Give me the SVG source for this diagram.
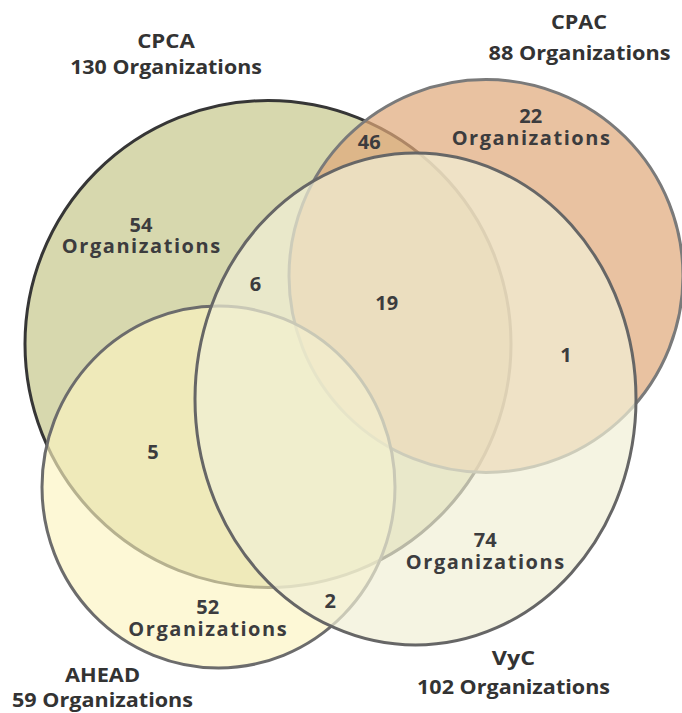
<svg xmlns="http://www.w3.org/2000/svg" width="682" height="713" viewBox="0 0 682 713">
<style>
.title{font-family:"Open Sans","Liberation Sans",sans-serif;font-weight:700;font-size:20px;fill:#333333;text-anchor:middle}
.lbl{font-family:"Open Sans","Liberation Sans",sans-serif;font-weight:700;font-size:20px;fill:#3c3c3e;text-anchor:middle}
.cpca{fill:#d7d8ae;stroke:#363636;stroke-width:3}
.cpac{fill:#e0a879;fill-opacity:0.7;stroke:#7a7a7a;stroke-width:3}
.ahead{fill:#fcf5c0;fill-opacity:0.65;stroke:#6c6c6c;stroke-width:3}
.vyc{fill:#f1efd6;fill-opacity:0.7;stroke:#666666;stroke-width:3}
</style>
<rect width="682" height="713" fill="#ffffff"/>
<g id="cpca">
<ellipse class="cpca" cx="268" cy="344" rx="243" ry="243.5"/>
</g>
<g id="cpac">
<ellipse class="cpac" cx="486" cy="276" rx="197" ry="196.5"/>
</g>
<g id="ahead">
<ellipse class="ahead" cx="218.5" cy="487" rx="176.5" ry="181"/>
</g>
<g id="vyc">
<ellipse class="vyc" cx="415.5" cy="399" rx="220.5" ry="246"/>
</g>
<g id="connectors"></g>
<g id="titles">
<text class="title" x="166" y="47.5" textLength="57.7" lengthAdjust="spacingAndGlyphs">CPCA</text>
<text class="title" x="166" y="74" textLength="191.7" lengthAdjust="spacingAndGlyphs">130 Organizations</text>
<text class="title" x="579" y="28.5" textLength="56" lengthAdjust="spacingAndGlyphs">CPAC</text>
<text class="title" x="579.5" y="59.5" textLength="182" lengthAdjust="spacingAndGlyphs">88 Organizations</text>
<text class="title" x="102.5" y="682" textLength="75" lengthAdjust="spacingAndGlyphs">AHEAD</text>
<text class="title" x="102.5" y="707" textLength="181" lengthAdjust="spacingAndGlyphs">59 Organizations</text>
<text class="title" x="513.5" y="665" textLength="43.3" lengthAdjust="spacingAndGlyphs">VyC</text>
<text class="title" x="513.5" y="693.5" textLength="193" lengthAdjust="spacingAndGlyphs">102 Organizations</text>
</g>
<g id="region-labels">
<text class="lbl"><tspan x="141" y="231.5">54</tspan><tspan x="141" y="253.3" textLength="158.3" lengthAdjust="spacing">Organizations</tspan></text>
<text class="lbl"><tspan x="530.8" y="122.5">22</tspan><tspan x="530.8" y="145" textLength="158.3" lengthAdjust="spacing">Organizations</tspan></text>
<text class="lbl" x="369.3" y="149.3">46</text>
<text class="lbl" x="255.5" y="290.7">6</text>
<text class="lbl" x="386.8" y="310">19</text>
<text class="lbl" x="566" y="362">1</text>
<text class="lbl" x="153" y="459.3">5</text>
<text class="lbl"><tspan x="485.3" y="547.3">74</tspan><tspan x="485" y="569" textLength="158.3" lengthAdjust="spacing">Organizations</tspan></text>
<text class="lbl"><tspan x="207.8" y="614">52</tspan><tspan x="207.5" y="635.7" textLength="158.3" lengthAdjust="spacing">Organizations</tspan></text>
<text class="lbl" x="330.3" y="607.7">2</text>
</g>
</svg>
